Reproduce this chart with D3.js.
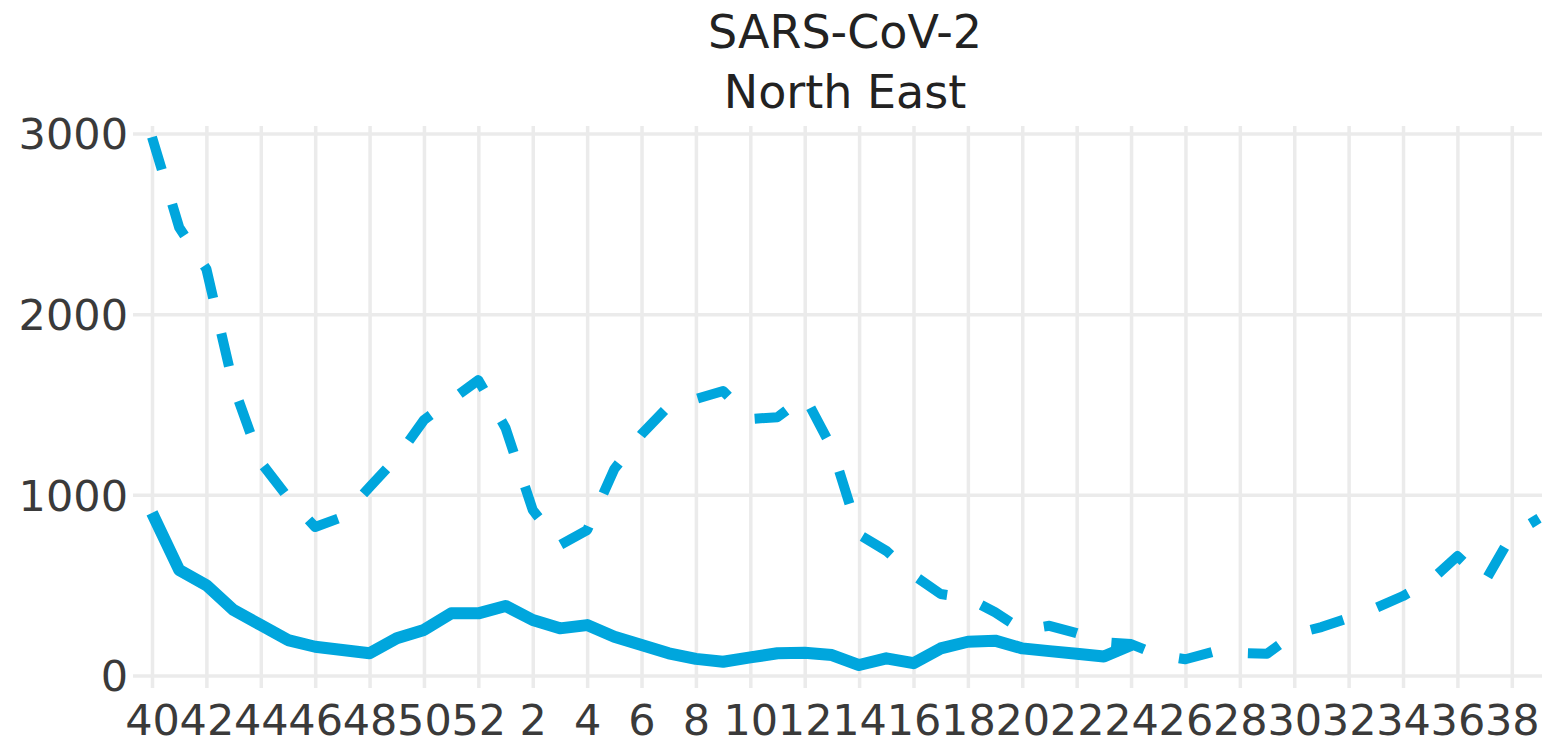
<!DOCTYPE html>
<html>
<head>
<meta charset="utf-8">
<script src="https://cdn.jsdelivr.net/npm/d3@7"></script>
<style>
  html, body { margin: 0; padding: 0; background: #ffffff; }
  svg { display: block; }
</style>
</head>
<body>
<svg id="chart" width="1542" height="741"></svg>
<script>
// ---- data ----
const titleLines = ["SARS-CoV-2", "North East"];
const weeks = [40,41,42,43,44,45,46,47,48,49,50,51,52,
  1,2,3,4,5,6,7,8,9,10,11,12,13,14,15,16,17,18,19,20,
  21,22,23,24,25,26,27,28,29,30,31,32,33,34,35,36,37,38,39];
const xTickLabels = [40,42,44,46,48,50,52,2,4,6,8,10,12,14,16,18,20,22,24,26,28,30,32,34,36,38];
const yTickValues = [0, 1000, 2000, 3000];
// dashed series (full season)
const dashedValues = [2980,2480,2250,1600,1180,985,822,877,1043,1204,1414,1525,1635,
  1370,916,722,805,1143,1335,1491,1530,1575,1420,1430,1545,1260,780,690,556,451,429,350,252,
  275,235,185,174,113,90,130,125,120,230,268,318,374,440,523,661,517,778,870];
// solid series (current season, up to week 24)
const solidValues = [900,584,500,362,279,196,159,141,123,206,252,344,344,
  385,307,261,279,215,169,123,92,76,100,123,126,113,58,95,68,150,187,193,150,
  135,120,105,169];

// ---- layout ----
const W = 1542, H = 741;
const plotLeft = 133, plotRight = 1542, plotTop = 126, axisY = 688;
const lineColor = "#00a6dd";
const gridColor = "#ebebeb";
const textColor = "#3a3a3a";
const font = "'DejaVu Sans', Verdana, sans-serif";

const svg = d3.select("#chart");

const x = d3.scalePoint().domain(weeks.map(String)).range([152, 1539]);
const y = d3.scaleLinear().domain([0, 3000]).range([675.5, 133.5]);

// y grid + labels
const yAxis = d3.axisLeft(y)
  .tickValues(yTickValues)
  .tickFormat(d3.format("d"))
  .tickSize(-(plotRight - plotLeft))
  .tickPadding(5);
const gy = svg.append("g").attr("transform", `translate(${plotLeft},0)`).call(yAxis);
gy.select(".domain").remove();
gy.selectAll(".tick line").attr("stroke", gridColor).attr("stroke-width", 3.5);
gy.selectAll(".tick text")
  .attr("fill", textColor)
  .style("font-family", font)
  .style("font-size", "43px")
  .attr("dy", "0.36em");

// x grid + labels
const xAxis = d3.axisBottom(x)
  .tickValues(xTickLabels.map(String))
  .tickSize(-(axisY - plotTop))
  .tickPadding(0);
const gx = svg.append("g").attr("transform", `translate(0,${axisY})`).call(xAxis);
gx.select(".domain").remove();
gx.selectAll(".tick line").attr("stroke", gridColor).attr("stroke-width", 3.5);
gx.selectAll(".tick text")
  .attr("fill", textColor)
  .style("font-family", font)
  .style("font-size", "43px")
  .attr("y", 47)
  .attr("dy", 0);

// lines
const line = d3.line()
  .defined(d => d.v != null)
  .x(d => x(String(d.w)))
  .y(d => y(d.v));

const dashedData = weeks.map((w, i) => ({w, v: i < dashedValues.length ? dashedValues[i] : null}));
const solidData = weeks.map((w, i) => ({w, v: i < solidValues.length ? solidValues[i] : null}));

svg.append("path")
  .datum(dashedData)
  .attr("d", line)
  .attr("fill", "none")
  .attr("stroke", lineColor)
  .attr("stroke-width", 10)
  .attr("stroke-dasharray", "34,36")
  .attr("stroke-linejoin", "round");

svg.append("path")
  .datum(solidData)
  .attr("d", line)
  .attr("fill", "none")
  .attr("stroke", lineColor)
  .attr("stroke-width", 12)
  .attr("stroke-linejoin", "round");

// title
svg.append("g").selectAll("text")
  .data(titleLines)
  .join("text")
  .attr("x", 845)
  .attr("y", (d, i) => 48 + i * 60)
  .attr("text-anchor", "middle")
  .attr("fill", "#222")
  .style("font-family", font)
  .style("font-size", "46px")
  .text(d => d);
</script>
</body>
</html>
